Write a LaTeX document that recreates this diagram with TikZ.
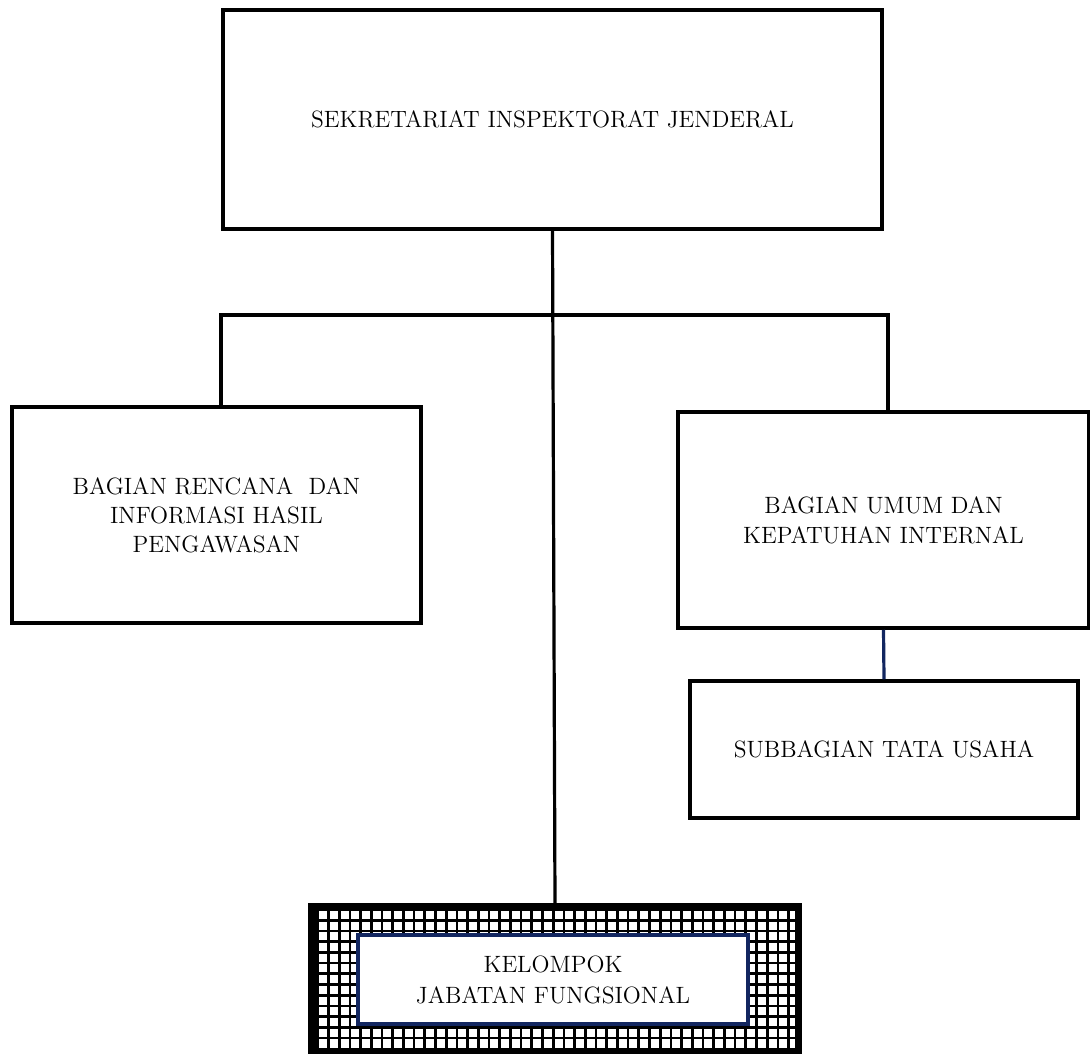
\documentclass[tikz,border=0pt]{standalone}
\usepackage{tikz}
\definecolor{navy}{RGB}{18,38,96}
\begin{document}
\begin{tikzpicture}[x=0.5pt,y=-0.5pt,
  box/.style={draw=black, fill=white, line width=1.75pt, rectangle, inner sep=0pt,
    align=center, font=\fontsize{11.8}{15}\selectfont},
  conn/.style={draw=black, line width=1.6pt},
  gridline/.style={draw=black, line width=1.35pt}]
\useasboundingbox (0,0) rectangle (1090,1053);

\node[box, minimum width=329.5pt, minimum height=109.5pt] (top) at (552.5,119.5)
  {SEKRETARIAT INSPEKTORAT JENDERAL};
\node[box, minimum width=204.5pt, minimum height=108pt,
  font=\fontsize{11.8}{14.5}\selectfont] (left) at (216.5,515)
  {BAGIAN RENCANA~ DAN\\INFORMASI HASIL\\PENGAWASAN};
\node[box, minimum width=205.5pt, minimum height=108pt] (right) at (883.5,520)
  {BAGIAN UMUM DAN\\KEPATUHAN INTERNAL};
\node[box, minimum width=194pt, minimum height=68.5pt] (sub) at (884,749.5)
  {SUBBAGIAN TATA USAHA};

% bottom hatched box
\node[box, line width=2.5pt, minimum width=242pt, minimum height=71pt] (outer) at (555,979) {};
\begin{scope}
  \clip (outer.south west) rectangle (outer.north east);
  \foreach \gx in {317.8,328.5,...,805} \draw[gridline] (\gx,900) -- (\gx,1053);
  \foreach \gy in {909.6,920.3,...,1045} \draw[gridline] (305,\gy) -- (805,\gy);
\end{scope}
\draw[line width=2.5pt] (outer.south west) rectangle (outer.north east);
\node[box, draw=navy, line width=1.6pt, minimum width=195pt, minimum height=44.5pt,
  font=\fontsize{11.8}{15.5}\selectfont] (inner) at (553,979.5)
  {KELOMPOK\\JABATAN FUNGSIONAL};

% connectors
\coordinate (busL) at (221,315);
\coordinate (busR) at (888,315);
\draw[conn] (top.south) -- (outer.north);
\draw[conn] (left.north -| busL) -- (busL) -- (busR) -- (right.north -| busR);
\draw[line width=1.6pt, draw=navy] (right.south) -- (sub.north);
\end{tikzpicture}
\end{document}
